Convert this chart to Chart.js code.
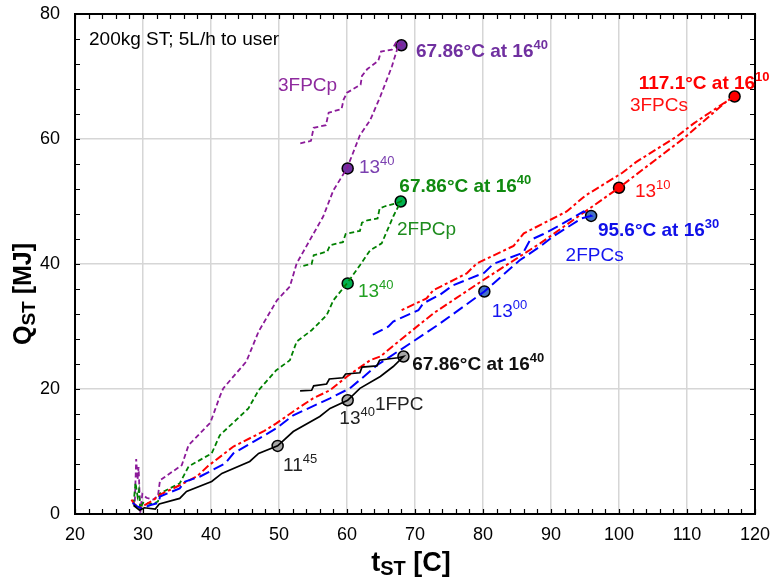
<!DOCTYPE html>
<html>
<head>
<meta charset="utf-8">
<title>QST vs tST</title>
<script src="https://cdn.jsdelivr.net/npm/chart.js@4.4.1/dist/chart.umd.min.js"></script>
<style>
    html, body { margin: 0; padding: 0; background: #fff; }
    #wrap { width: 774px; height: 581px; }
</style>
</head>
<body>
<div id="wrap"><canvas id="chart" width="774" height="581"></canvas></div>
<script>
// ---------------------------------------------
// Data: [t_ST (C), Q_ST (MJ)]
// each run = heating branch up to the peak, then the stepped cool-down branch
// ---------------------------------------------
const run1FPC = [
    [28.6, 1.4], [29.5, 0.6], [30.2, 1.0], [31.8, 0.8], [32.4, 1.6], [35.4, 2.5], [36.4, 3.6],
    [40.1, 5.2], [41.6, 6.5], [45.7, 8.4], [47.0, 9.7], [49.8, 10.9], [52.1, 13.2], [56.0, 15.6],
    [57.5, 16.9], [60.1, 18.2], [61.9, 20.1], [64.9, 22.0], [66.8, 23.6], [68.3, 25.2],
    [67.5, 25.0], [66.0, 24.8], [64.8, 24.6], [64.4, 23.7], [62.2, 23.5], [61.9, 22.6], [59.8, 22.4],
    [59.4, 21.8], [57.4, 21.6], [57.0, 20.8], [55.1, 20.5], [54.8, 19.8], [53.1, 19.7]
];
const run2FPCs = [
    [28.5, 1.8], [29.0, 1.3], [29.8, 0.9], [31.0, 1.4], [32.3, 1.8], [32.5, 2.8], [35.4, 4.1],
    [36.2, 5.2], [38.4, 6.0], [42.1, 8.1], [43.3, 9.7], [49.6, 13.7], [52.1, 15.8], [57.5, 18.5],
    [60.4, 20.1], [62.5, 22.0], [64.4, 23.8], [69.3, 27.3], [73.7, 30.5], [80.2, 35.6], [85.4, 40.6],
    [88.4, 42.8], [90.3, 44.4], [94.5, 47.3], [95.9, 47.7],
    [94.8, 48.4], [91.3, 46.2], [88.9, 44.8], [86.9, 43.8], [85.9, 41.8], [81.5, 40.0], [80.2, 38.6],
    [75.6, 36.6], [73.7, 35.1], [71.2, 33.7], [70.5, 32.6], [66.8, 30.8], [66.1, 30.0], [63.6, 28.6]
];
const run3FPCs = [
    [28.3, 2.3], [28.8, 1.5], [29.6, 1.0], [30.5, 1.6], [31.5, 2.2], [32.5, 3.1], [35.4, 4.6],
    [37.9, 6.0], [39.6, 7.7], [43.3, 10.8], [47.7, 13.2], [49.6, 14.5], [52.1, 16.4], [55.0, 18.5],
    [57.5, 19.8], [60.0, 22.0], [63.4, 24.6], [64.9, 25.2], [67.8, 27.8], [72.7, 32.1], [80.0, 37.4],
    [85.4, 41.2], [88.4, 43.3], [100.0, 52.2], [109.5, 60.1], [115.8, 66.0], [117.0, 66.8],
    [115.5, 65.8], [111.0, 62.5], [108.5, 60.4], [102.5, 56.3], [100.5, 54.6], [95.0, 50.9],
    [92.3, 48.4], [86.0, 44.9], [84.5, 42.9], [79.1, 40.1], [77.6, 38.5], [72.7, 35.8], [71.7, 34.5],
    [68.0, 32.6]
];
const run2FPCp = [
    [28.6, 1.5], [28.9, 5.0], [29.2, 2.8], [29.4, 3.8], [29.6, 0.8], [30.0, 1.8], [31.5, 1.6],
    [32.2, 2.0], [32.5, 3.3], [35.4, 4.9], [36.7, 7.6], [40.1, 9.7], [41.3, 12.6], [45.5, 16.9],
    [47.0, 19.8], [49.6, 23.0], [51.6, 24.6], [52.6, 27.6], [54.8, 29.4], [57.0, 31.8], [58.0, 34.2],
    [60.0, 36.9], [61.9, 39.8], [63.4, 42.2], [65.1, 43.3], [66.8, 47.6], [67.9, 50.0],
    [67.2, 49.7], [65.5, 49.2], [64.8, 48.9], [64.5, 47.3], [63.0, 47.0], [62.2, 46.6], [61.9, 45.3],
    [59.8, 44.8], [59.4, 43.5], [57.5, 43.0], [57.1, 42.0], [55.1, 41.4], [54.8, 40.0], [53.1, 39.6]
];
const run3FPCp = [
    [28.8, 2.0], [29.0, 8.8], [29.2, 5.5], [29.35, 7.5], [29.6, 0.2], [29.9, 3.2], [30.5, 2.6],
    [31.5, 2.3], [32.2, 2.9], [32.5, 5.4], [35.7, 7.8], [36.7, 11.0], [39.9, 14.6], [41.3, 18.8],
    [41.8, 20.1], [45.2, 24.4], [47.0, 29.2], [49.7, 34.2], [51.6, 36.4], [52.6, 40.1], [56.5, 47.6],
    [58.0, 51.8], [60.0, 55.3], [61.9, 60.6], [63.4, 63.0], [64.9, 66.8], [66.6, 71.6], [67.5, 74.8],
    [68.0, 75.0],
    [67.3, 75.6], [66.6, 74.3], [65.0, 74.0], [64.6, 72.5], [63.0, 71.2], [62.2, 70.1], [62.0, 68.7],
    [60.0, 67.4], [59.5, 66.3], [59.2, 64.8], [57.3, 64.2], [56.9, 62.2], [55.1, 61.8], [54.7, 59.7],
    [53.1, 59.3]
];

// marked times on each run
const marks1FPC = [[49.8, 10.9], [60.1, 18.2], [68.3, 25.2]];
const marks2FPCs = [[80.2, 35.6], [95.9, 47.7]];
const marks3FPCs = [[100.0, 52.2], [117.0, 66.8]];
const marks2FPCp = [[60.1, 36.9], [67.9, 50.0]];
const marks3FPCp = [[60.1, 55.3], [68.0, 75.0]];

const xTicks = [20, 30, 40, 50, 60, 70, 80, 90, 100, 110, 120];
const yTicks = [0, 20, 40, 60, 80];

// ---------------------------------------------
// Helpers
// ---------------------------------------------
const FONT = '"Liberation Sans", Arial, sans-serif';
const toXY = arr => arr.map(p => ({ x: p[0], y: p[1] }));

function lineSet(data, color, dash, width) {
    return {
        data: toXY(data), showLine: true, borderColor: color, borderWidth: width,
        borderDash: dash, pointRadius: 0, fill: false, tension: 0
    };
}
function markSet(data, fill) {
    return {
        data: toXY(data), showLine: false, pointRadius: 5.5, pointHoverRadius: 5.5,
        backgroundColor: fill, borderColor: '#000', borderWidth: 1.5
    };
}

// text notes on the plot: [t, Q] of cap centre
const notes = [
    { at: [22.06, 76.1], text: '200kg ST; 5L/h to user', color: '#000', size: 19 },
    { at: [49.85, 68.8], text: '3FPCp', color: '#8E2A9E', size: 19 },
    { at: [61.76, 55.7], text: '13', sup: '40', color: '#7B40B0', size: 19 },
    { at: [70.15, 74.2], text: '67.86°C at 16', sup: '40', color: '#7030A0', size: 19, bold: true },
    { at: [67.7, 52.6], text: '67.86°C at 16', sup: '40', color: '#108A10', size: 19, bold: true },
    { at: [67.35, 45.8], text: '2FPCp', color: '#1E8C1E', size: 19 },
    { at: [61.6, 35.8], text: '13', sup: '40', color: '#22A022', size: 19 },
    { at: [102.9, 69.1], text: '117.1°C at 16', sup: '10', color: '#FF0000', size: 19, bold: true },
    { at: [101.6, 65.6], text: '3FPCs', color: '#FF1010', size: 19 },
    { at: [102.35, 51.8], text: '13', sup: '10', color: '#FF1010', size: 19 },
    { at: [96.9, 45.5], text: '95.6°C at 16', sup: '30', color: '#1010E8', size: 19, bold: true },
    { at: [92.15, 41.5], text: '2FPCs', color: '#1515F0', size: 19 },
    { at: [81.27, 32.6], text: '13', sup: '00', color: '#1515F0', size: 19 },
    { at: [69.6, 24.2], text: '67.86°C at 16', sup: '40', color: '#111', size: 19, bold: true },
    { at: [64.1, 17.7], text: '1FPC', color: '#222', size: 19 },
    { at: [58.87, 15.5], text: '13', sup: '40', color: '#222', size: 19 },
    { at: [50.6, 7.9], text: '11', sup: '45', color: '#222', size: 19 }
];

function drawRich(ctx, x, base, parts) {
    // parts: [{text, size, bold, dy}]
    let cx = x;
    parts.forEach(p => {
        ctx.font = (p.bold ? 'bold ' : '') + p.size + 'px ' + FONT;
        ctx.fillText(p.text, cx, base + (p.dy || 0));
        cx += ctx.measureText(p.text).width;
    });
    return cx - x;
}
function richWidth(ctx, parts) {
    let w = 0;
    parts.forEach(p => {
        ctx.font = (p.bold ? 'bold ' : '') + p.size + 'px ' + FONT;
        w += ctx.measureText(p.text).width;
    });
    return w;
}

// frame, inward ticks, axis titles and notes
const decorPlugin = {
    id: 'decor',
    afterDraw(chart) {
        const ctx = chart.ctx;
        const a = chart.chartArea;
        const xs = chart.scales.x, ys = chart.scales.y;
        ctx.save();

        // inward minor ticks on all four sides
        ctx.strokeStyle = '#000';
        ctx.lineWidth = 1.2;
        ctx.beginPath();
        for (let v = 20; v <= 120; v += 2) {
            const px = Math.round(xs.getPixelForValue(v)) + 0.5;
            ctx.moveTo(px, a.bottom); ctx.lineTo(px, a.bottom - 5);
            ctx.moveTo(px, a.top); ctx.lineTo(px, a.top + 5);
        }
        for (let v = 0; v <= 80; v += 4) {
            const py = Math.round(ys.getPixelForValue(v)) + 0.5;
            ctx.moveTo(a.left, py); ctx.lineTo(a.left + 5, py);
            ctx.moveTo(a.right, py); ctx.lineTo(a.right - 5, py);
        }
        ctx.stroke();

        // box
        ctx.lineWidth = 2;
        ctx.strokeRect(a.left, a.top, a.right - a.left, a.bottom - a.top);

        // notes
        ctx.textAlign = 'left';
        ctx.textBaseline = 'alphabetic';
        notes.forEach(n => {
            const x = xs.getPixelForValue(n.at[0]);
            const base = ys.getPixelForValue(n.at[1]) + n.size * 0.36;
            ctx.fillStyle = n.color;
            const parts = [{ text: n.text, size: n.size, bold: n.bold }];
            if (n.sup) parts.push({ text: n.sup, size: Math.round(n.size * 0.68), bold: n.bold, dy: -n.size * 0.42 });
            drawRich(ctx, x, base, parts);
        });

        // x title: t_ST [C]
        ctx.fillStyle = '#000';
        const xt = [
            { text: 't', size: 27, bold: true },
            { text: 'ST', size: 20, bold: true, dy: 4 },
            { text: ' [C]', size: 27, bold: true }
        ];
        const xw = richWidth(ctx, xt);
        drawRich(ctx, (a.left + a.right) / 2 - 4 - xw / 2, 571, xt);

        // y title: Q_ST [MJ], rotated
        const yt = [
            { text: 'Q', size: 25, bold: true },
            { text: 'ST', size: 19, bold: true, dy: 4 },
            { text: ' [MJ]', size: 25, bold: true }
        ];
        const yw = richWidth(ctx, yt);
        ctx.translate(31, 294);
        ctx.rotate(-Math.PI / 2);
        drawRich(ctx, -yw / 2, 0, yt);

        ctx.restore();
    }
};

// ---------------------------------------------
// Chart
// ---------------------------------------------
function initChart() {
    const grid = { color: '#d6d6d6', lineWidth: 1.5, drawTicks: false };
    new Chart(document.getElementById('chart').getContext('2d'), {
        type: 'scatter',
        data: {
            datasets: [
                lineSet(run1FPC, '#000000', [], 1.7),
                lineSet(run2FPCs, '#0000FF', [11, 5], 2),
                lineSet(run3FPCs, '#FF0000', [8, 3, 3, 3], 2),
                lineSet(run2FPCp, '#008000', [5, 3], 1.8),
                lineSet(run3FPCp, '#8B1A99', [5, 3], 1.8),
                markSet(marks1FPC, '#A6A6A6'),
                markSet(marks2FPCs, '#4472C4'),
                markSet(marks3FPCs, '#FF0000'),
                markSet(marks2FPCp, '#00B050'),
                markSet(marks3FPCp, '#7030A0')
            ]
        },
        options: {
            responsive: false,
            animation: false,
            events: [],
            layout: { padding: { top: 14, right: 19, left: 0, bottom: 0 } },
            plugins: { legend: { display: false }, tooltip: { enabled: false } },
            scales: {
                x: {
                    type: 'linear', min: 20, max: 120,
                    afterBuildTicks: s => { s.ticks = xTicks.map(v => ({ value: v })); },
                    afterFit: s => { s.height = 67; s.paddingLeft = 0; s.paddingRight = 0; },
                    ticks: { color: '#000', padding: 10, font: { size: 18, family: FONT } },
                    grid: grid,
                    border: { display: true, color: '#000', width: 2 }
                },
                y: {
                    type: 'linear', min: 0, max: 80,
                    afterBuildTicks: s => { s.ticks = yTicks.map(v => ({ value: v })); },
                    afterFit: s => { s.width = 75; s.paddingTop = 0; s.paddingBottom = 0; },
                    ticks: { color: '#000', padding: 15, font: { size: 18, family: FONT } },
                    grid: grid,
                    border: { display: true, color: '#000', width: 2 }
                }
            }
        },
        plugins: [decorPlugin]
    });
}

if (document.readyState === 'loading') {
    document.addEventListener('DOMContentLoaded', initChart);
} else {
    initChart();
}
</script>
</body>
</html>
